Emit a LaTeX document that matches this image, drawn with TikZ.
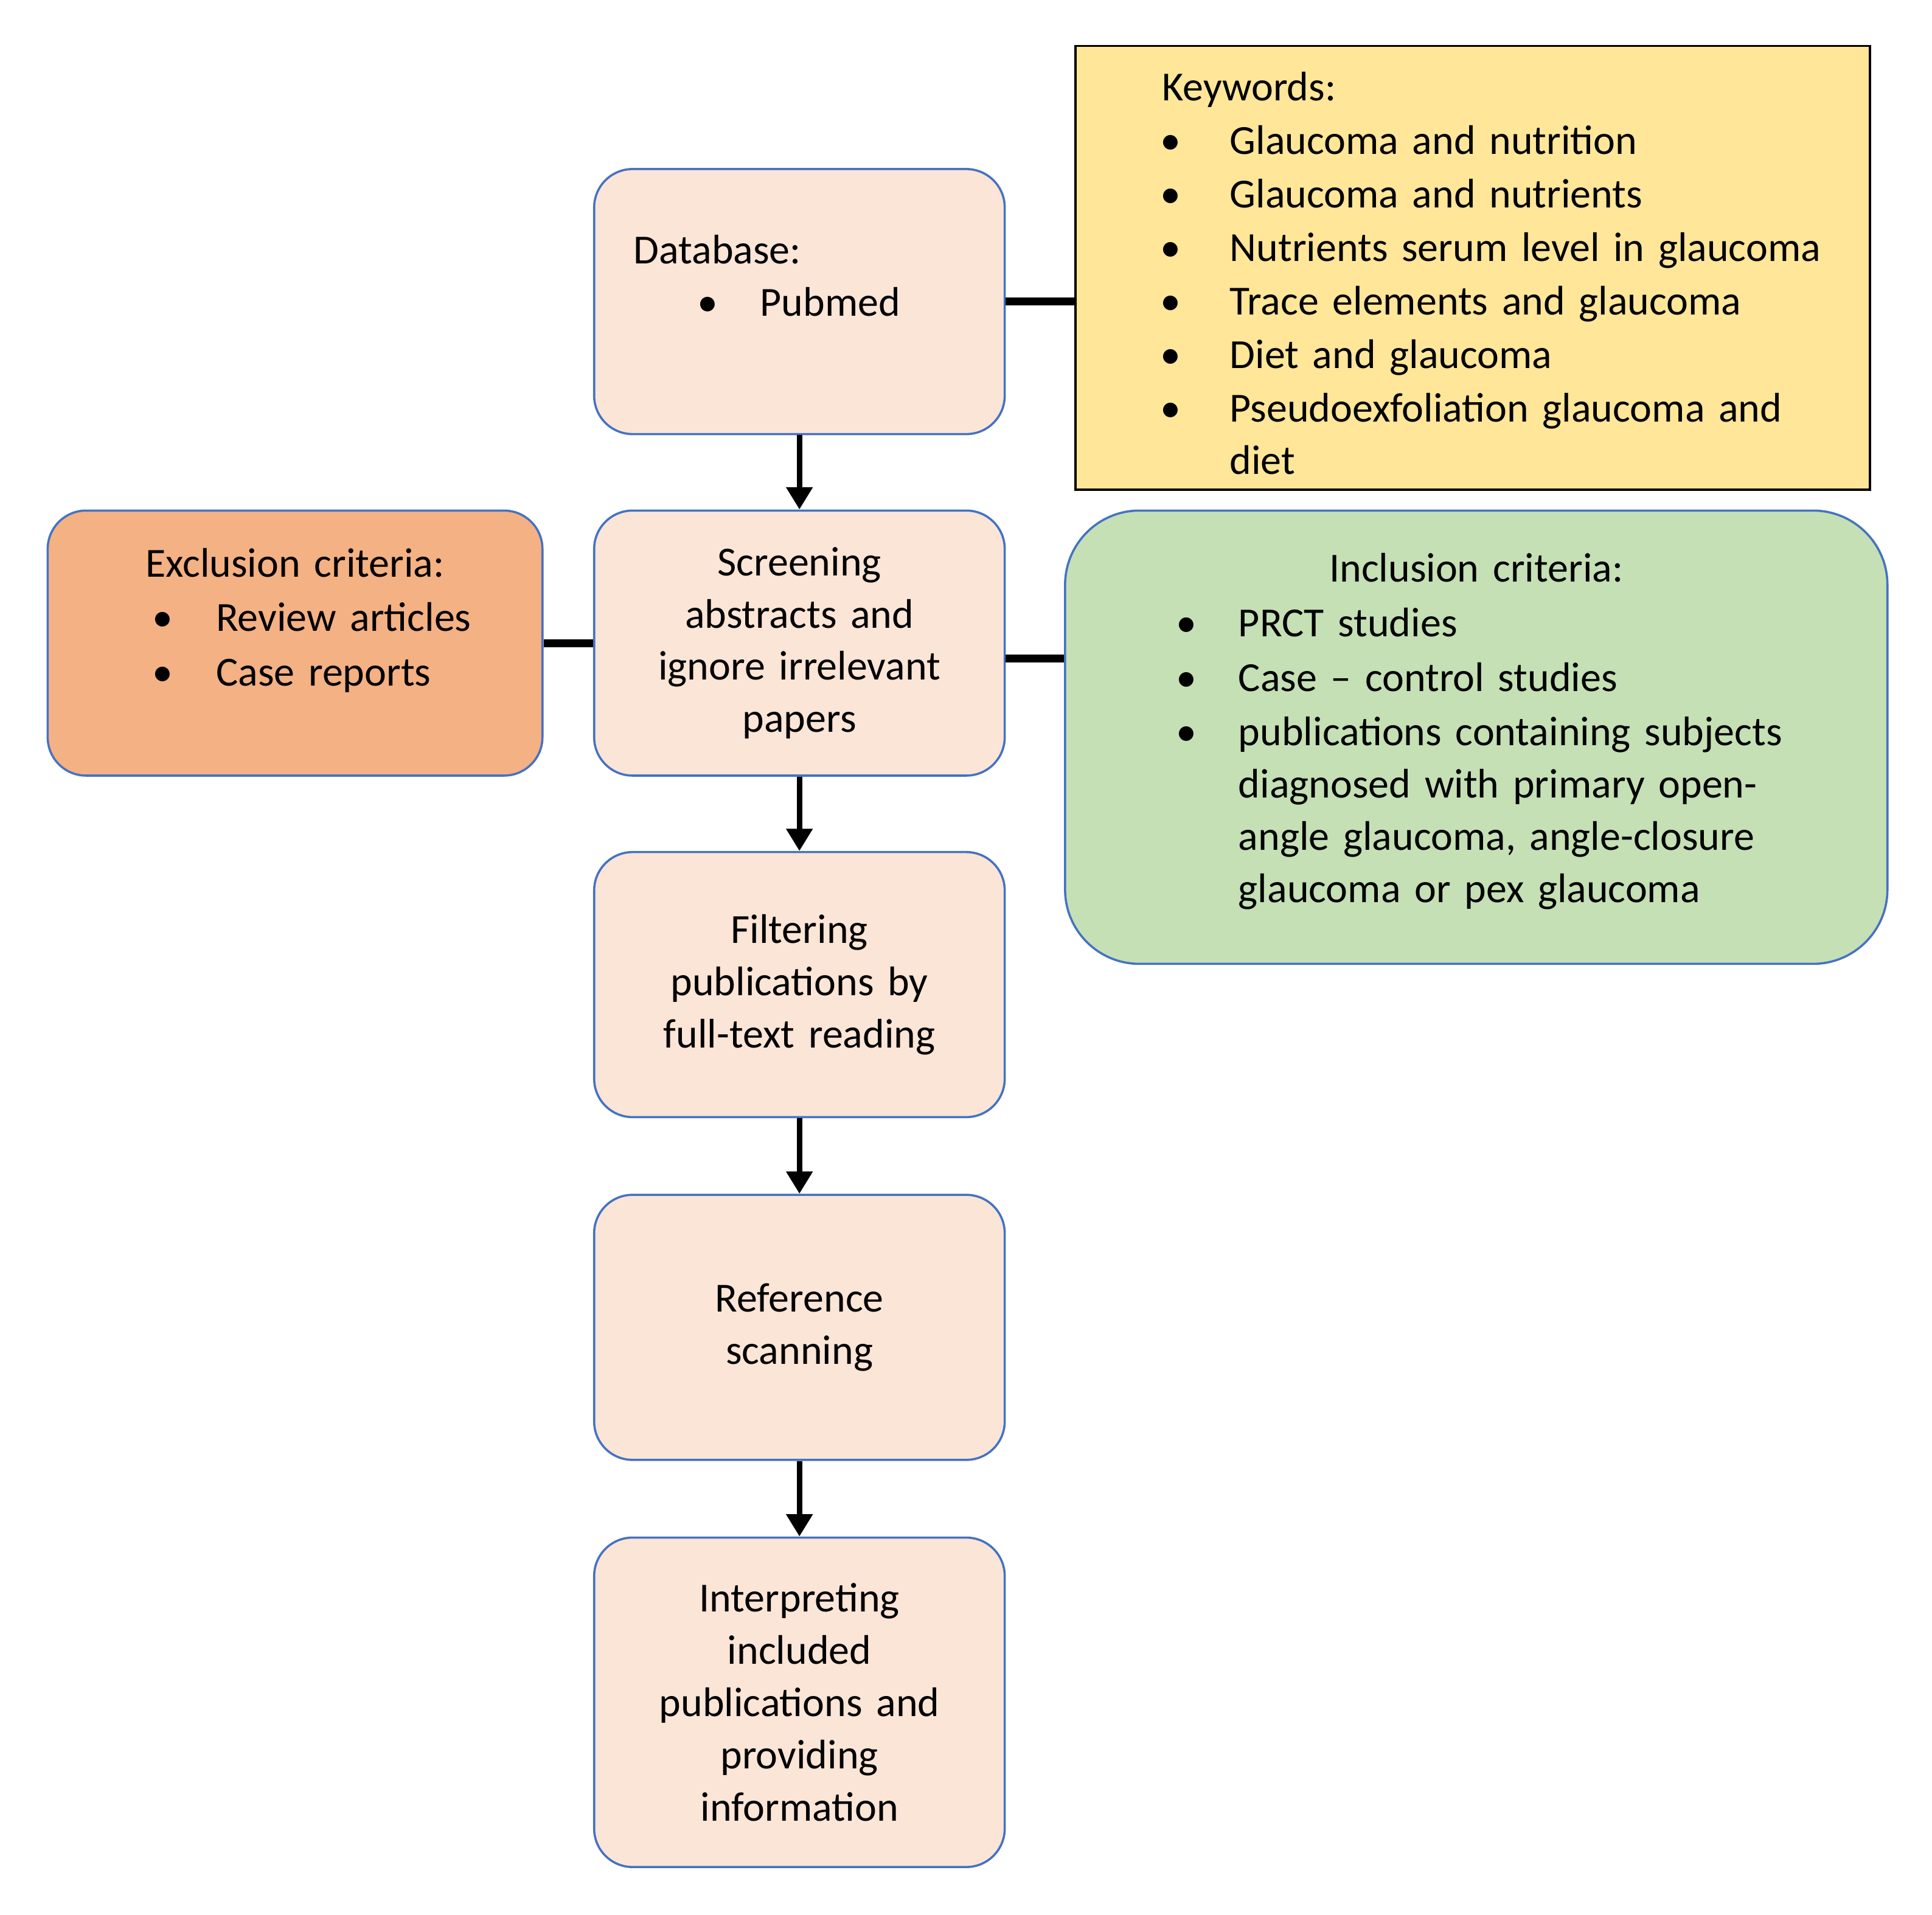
\documentclass[tikz,border=0pt]{standalone}
\usepackage{fontspec}
\setmainfont{Carlito}
\usetikzlibrary{positioning,arrows.meta,calc}

\definecolor{stepfill}{HTML}{FBE5D6}
\definecolor{stepline}{HTML}{4472C4}
\definecolor{exclfill}{HTML}{F4B183}
\definecolor{inclfill}{HTML}{C5E0B4}
\definecolor{kwfill}{HTML}{FFE699}

\newcommand{\bul}[2]{\hspace*{#1}\makebox[#2][l]{\textbullet}}

\begin{document}
\begin{tikzpicture}[node distance=1.2cm,
    txt/.style={inner sep=0pt, font=\fontsize{19pt}{24pt}\selectfont},
    stepbox/.style={txt, rectangle, rounded corners=0.62cm, draw=stepline, line width=0.035cm, fill=stepfill, text width=6.63cm, minimum height=4.28cm, align=center},
    excbox/.style={stepbox, fill=exclfill, text width=7.99cm, align=left},
    incbox/.style={stepbox, fill=inclfill, rounded corners=1.2cm, text width=13.28cm, minimum height=7.32cm, align=left},
    kwbox/.style={txt, rectangle, draw=black, line width=0.035cm, fill=kwfill, text width=12.83cm, minimum height=7.17cm, align=left},
    flow/.style={line width=0.09cm, -{Triangle[length=0.36cm, width=0.41cm]}},
    link/.style={line width=0.13cm}]

    \useasboundingbox (0,0) rectangle (31.2,-30.92);

    \node [stepbox, align=left] (db) at (12.91,-4.87) {\hspace*{0.64cm}Database:\\ \bul{1.67cm}{1.01cm}Pubmed\\ \mbox{}};
    \node [stepbox] (scr) [below=of db] {Screening\\ abstracts and\\ ignore irrelevant\\ papers};
    \node [stepbox] (filt) [below=of scr] {Filtering\\ publications by\\ full-text reading};
    \node [stepbox] (refs) [below=1.22cm of filt] {Reference\\ scanning};
    \node [stepbox, minimum height=5.32cm] (interp) [below=1.22cm of refs] {Interpreting\\ included\\ publications and\\ providing\\ information};

    \node [excbox] (excl) [left=0.8cm of scr] {\makebox[7.99cm]{Exclusion criteria:}\\[1.1pt] \bul{1.69cm}{1.03cm}Review articles\\[1.1pt] \bul{1.69cm}{1.03cm}Case reports\\ \mbox{}};
    \node [incbox] (incl) [right=0.94cm of scr.north east, anchor=north west] {\makebox[13.28cm]{Inclusion criteria:}\\[1.1pt] \bul{1.79cm}{1.01cm}PRCT studies\\[1.1pt] \bul{1.79cm}{1.01cm}Case – control studies\\[1.1pt] \bul{1.79cm}{1.01cm}publications containing subjects\\ \hspace*{2.8cm}diagnosed with primary open-\\ \hspace*{2.8cm}angle glaucoma, angle-closure\\ \hspace*{2.8cm}glaucoma or pex glaucoma\\[-0.54cm] \mbox{}};
    \node [kwbox] (kw) [right=1.11cm of db.north east, anchor=north west, yshift=1.99cm] {\mbox{}\\[-0.21cm] \hspace*{1.4cm}Keywords:\\[0.6pt] \bul{1.37cm}{1.12cm}Glaucoma and nutrition\\[0.6pt] \bul{1.37cm}{1.12cm}Glaucoma and nutrients\\[0.6pt] \bul{1.37cm}{1.12cm}Nutrients serum level in glaucoma\\[0.6pt] \bul{1.37cm}{1.12cm}Trace elements and glaucoma\\[0.6pt] \bul{1.37cm}{1.12cm}Diet and glaucoma\\[0.6pt] \bul{1.37cm}{1.12cm}Pseudoexfoliation glaucoma and\\ \hspace*{2.49cm}diet};

    \draw[flow] (db) -- (scr);
    \draw[flow] (scr) -- (filt);
    \draw[flow] (filt) -- (refs);
    \draw[flow] (refs) -- (interp);

    \coordinate (incl-tap) at ($(scr.east)+(0,-0.25)$);
    \draw[link] (db.east) -- (db.east -| kw.west);
    \draw[link] (excl.east) -- (scr.west);
    \draw[link] (incl-tap) -- (incl-tap -| incl.west);

\end{tikzpicture}
\end{document}
